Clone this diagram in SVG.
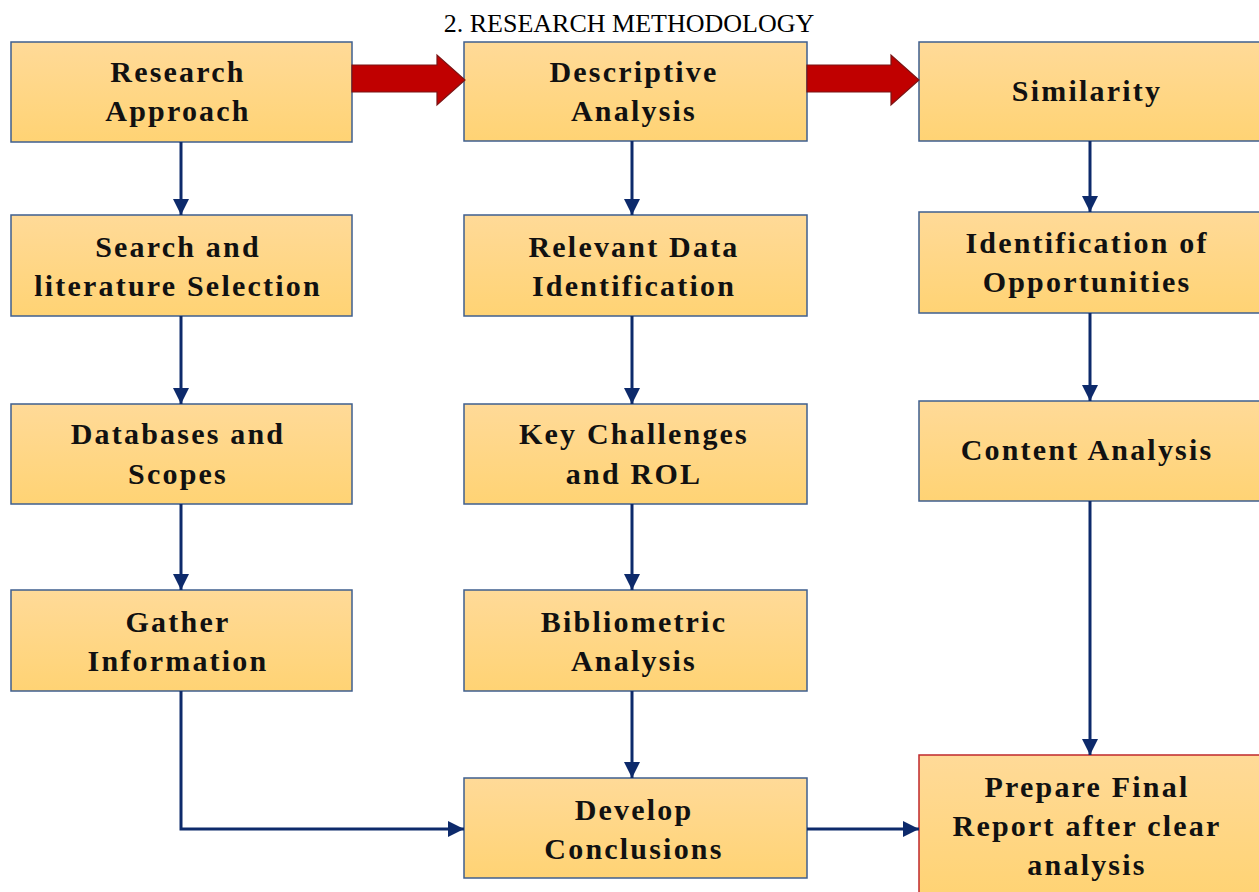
<svg xmlns="http://www.w3.org/2000/svg" width="1259" height="892" viewBox="0 0 1259 892">
<defs>
<linearGradient id="g" x1="0" y1="0" x2="0" y2="1">
<stop offset="0" stop-color="#FFDA98"/>
<stop offset="1" stop-color="#FFD374"/>
</linearGradient>
<marker id="ah" markerUnits="userSpaceOnUse" markerWidth="18" markerHeight="18" viewBox="0 0 18 18" refX="16" refY="9" orient="auto">
<path d="M0,1 L16,9 L0,17 Z" fill="#0D2A6B"/>
</marker>
<style>
.box{fill:url(#g);stroke:#3F5F8F;stroke-width:1.5}
.red{fill:url(#g);stroke:#C0282D;stroke-width:1.5}
.t{font-family:"Liberation Serif",serif;font-weight:bold;font-size:30px;letter-spacing:2.2px;fill:#111;text-anchor:middle}
.c{fill:none;stroke:#0D2A6B;stroke-width:3;marker-end:url(#ah)}
.big{fill:#C00000;stroke:#7A1515;stroke-width:1.2}
</style>
</defs>
<rect width="1259" height="892" fill="#fff"/>
<text x="629" y="32" font-family="Liberation Serif,serif" font-size="26" text-anchor="middle" fill="#000">2. RESEARCH METHODOLOGY</text>

<g id="n1"><rect class="box" x="11" y="42" width="341" height="100"/><text class="t" x="178" y="82">Research</text><text class="t" x="178" y="121">Approach</text></g>
<g id="n2"><rect class="box" x="11" y="215" width="341" height="101"/><text class="t" x="178" y="257">Search and</text><text class="t" x="178" y="296">literature Selection</text></g>
<g id="n3"><rect class="box" x="11" y="404" width="341" height="100"/><text class="t" x="178" y="444">Databases and</text><text class="t" x="178" y="484">Scopes</text></g>
<g id="n4"><rect class="box" x="11" y="590" width="341" height="101"/><text class="t" x="178" y="632">Gather</text><text class="t" x="178" y="671">Information</text></g>

<g id="n5"><rect class="box" x="464" y="42" width="343" height="99"/><text class="t" x="634" y="82">Descriptive</text><text class="t" x="634" y="121">Analysis</text></g>
<g id="n6"><rect class="box" x="464" y="215" width="343" height="101"/><text class="t" x="634" y="257">Relevant Data</text><text class="t" x="634" y="296">Identification</text></g>
<g id="n7"><rect class="box" x="464" y="404" width="343" height="100"/><text class="t" x="634" y="444">Key Challenges</text><text class="t" x="634" y="484">and ROL</text></g>
<g id="n8"><rect class="box" x="464" y="590" width="343" height="101"/><text class="t" x="634" y="632">Bibliometric</text><text class="t" x="634" y="671">Analysis</text></g>
<g id="n9"><rect class="box" x="464" y="778" width="343" height="100"/><text class="t" x="634" y="820">Develop</text><text class="t" x="634" y="859">Conclusions</text></g>

<g id="n10"><rect class="box" x="919" y="42" width="345" height="99"/><text class="t" x="1087" y="101">Similarity</text></g>
<g id="n11"><rect class="box" x="919" y="212" width="345" height="101"/><text class="t" x="1087" y="253">Identification of</text><text class="t" x="1087" y="292">Opportunities</text></g>
<g id="n12"><rect class="box" x="919" y="401" width="345" height="100"/><text class="t" x="1087" y="460">Content Analysis</text></g>
<g id="n13"><rect class="red" x="919" y="755" width="345" height="140"/><text class="t" x="1087" y="797">Prepare Final</text><text class="t" x="1087" y="836">Report after clear</text><text class="t" x="1087" y="875">analysis</text></g>

<g id="connectors">
<path class="big" d="M352,65 L437,65 L437,55 L465,80 L437,105 L437,92 L352,92 Z"/>
<path class="big" d="M807,65 L891,65 L891,55 L919,80 L891,105 L891,92 L807,92 Z"/>
<path class="c" d="M181,142 L181,215"/>
<path class="c" d="M181,316 L181,404"/>
<path class="c" d="M181,504 L181,590"/>
<path class="c" d="M181,691 L181,829 L464,829"/>
<path class="c" d="M632,141 L632,215"/>
<path class="c" d="M632,316 L632,404"/>
<path class="c" d="M632,504 L632,590"/>
<path class="c" d="M632,691 L632,778"/>
<path class="c" d="M807,829 L919,829"/>
<path class="c" d="M1090,141 L1090,212"/>
<path class="c" d="M1090,313 L1090,401"/>
<path class="c" d="M1090,501 L1090,755"/>
</g>
</svg>
